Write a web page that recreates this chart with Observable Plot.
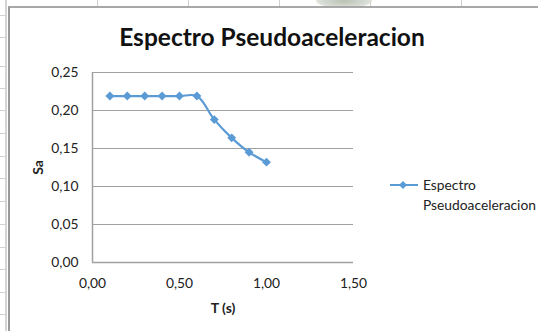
<!DOCTYPE html>
<html>
<head>
<meta charset="utf-8">
<script src="https://cdn.jsdelivr.net/npm/d3@7"></script>
<script src="https://cdn.jsdelivr.net/npm/@observablehq/plot@0.6"></script>
<style>
  html, body { margin: 0; padding: 0; background: #fff; }
  #wrap { position: relative; width: 538px; height: 331px; overflow: hidden; font-family: Lato, "Open Sans", sans-serif; }
  .vline { position: absolute; top: 0; width: 1px; height: 6px; background: #d0d0d0; }
  .hline { position: absolute; left: 0; width: 7px; height: 1px; background: #d0d0d0; }
  #lstripe { position: absolute; left: 5px; top: 0; width: 2px; height: 331px; background: #d4d4d4; }
  #chart { position: absolute; left: 8px; top: 6px; width: 540px; height: 340px; border-left: 2px solid #9a9a9a; border-top: 2px solid #a8a8a8; background: #fff; }
  #wm { position: absolute; left: 316px; top: -6px; width: 56px; height: 14px; border-radius: 50%; background: radial-gradient(ellipse at center, #b9c2b5 0%, #d9ded6 60%, rgba(255,255,255,0) 100%); }
  #plot { position: absolute; left: 0; top: 0; }
  #title { position: absolute; left: 0; width: 544px; top: 22px; text-align: center; font-weight: bold; font-size: 24.5px; color: #111; white-space: nowrap; }
  #legend { position: absolute; left: 390px; top: 175px; font-size: 13.8px; color: #222; }
  #legend svg { position: absolute; left: 0; top: 4px; }
  #legend .t { position: absolute; left: 33px; white-space: nowrap; line-height: 20px; }
</style>
</head>
<body>
<div id="wrap">
  <div id="lstripe"></div>
  <div id="wm"></div>
  <div id="chart"></div>
  <div id="plot"></div>
  <div id="title">Espectro Pseudoaceleracion</div>
  <div id="legend">
    <svg width="30" height="12"><line x1="0" y1="6" x2="28" y2="6" stroke="#5B9BD5" stroke-width="2"/><path d="M13,2 L17,6 L13,10 L9,6 Z" fill="#5B9BD5"/></svg>
    <div class="t" style="top:0px">Espectro</div>
    <div class="t" style="top:20px">Pseudoaceleracion</div>
  </div>
</div>
<script>
// Data
const periods = [0.1, 0.2, 0.3, 0.4, 0.5, 0.6, 0.7, 0.8, 0.9, 1.0];
const sa = [0.219, 0.219, 0.219, 0.219, 0.219, 0.219, 0.188, 0.164, 0.145, 0.132];
const xTicks = [0, 0.5, 1.0, 1.5];
const yTicks = [0, 0.05, 0.10, 0.15, 0.20, 0.25];
const seriesName = "Espectro Pseudoaceleracion";
const chartTitle = "Espectro Pseudoaceleracion";
const xLabel = "T (s)";
const yLabel = "Sa";

// background spreadsheet grid
const wrap = document.getElementById("wrap");
const colLines = [6, 97, 188, 279, 370, 461];
const rowLines = [15, 37, 66, 88, 110, 133, 156, 178, 201, 224, 247, 269, 292, 314];
colLines.forEach(x => { const d = document.createElement("div"); d.className = "vline"; d.style.left = x + "px"; wrap.insertBefore(d, wrap.firstChild); });
rowLines.forEach(y => { const d = document.createElement("div"); d.className = "hline"; d.style.top = y + "px"; wrap.insertBefore(d, wrap.firstChild); });

const data = periods.map((t, i) => ({T: t, Sa: sa[i], series: seriesName}));
const fmt = d => d.toFixed(2).replace(".", ",");

const chart = Plot.plot({
  width: 538,
  height: 331,
  marginLeft: 92,
  marginRight: 185,
  marginTop: 72,
  marginBottom: 69,
  style: {fontFamily: "Lato, 'Open Sans', sans-serif", fontSize: "13.8px", color: "#222", background: "transparent", overflow: "visible"},
  x: {domain: [0, 1.5], ticks: xTicks, tickFormat: fmt, label: null},
  y: {domain: [0, 0.25], ticks: yTicks, tickFormat: fmt, label: null},
  marks: [
    Plot.ruleY(yTicks.filter(d => d > 0), {stroke: "#a0a0a0", strokeWidth: 1.2}),
    Plot.ruleY([0], {stroke: "#a0a0a0", strokeWidth: 1.5}),
    Plot.ruleX([0], {stroke: "#a0a0a0", strokeWidth: 1.5}),
    Plot.axisY({ticks: yTicks, tickFormat: fmt, tickSize: 0, tickPadding: 14, label: null, fontSize: 13.8}),
    Plot.axisX({ticks: xTicks, tickFormat: fmt, tickSize: 0, tickPadding: 16, label: null, fontSize: 13.8}),
    Plot.line(data, {x: "T", y: "Sa", stroke: "#5B9BD5", strokeWidth: 2.2, curve: "catmull-rom"}),
    Plot.dot(data, {x: "T", y: "Sa", symbol: "diamond2", r: 4, fill: "#5B9BD5", stroke: "none"}),
    Plot.text([yLabel], {frameAnchor: "left", dx: -54, rotate: -90, textAnchor: "middle", fontWeight: "bold", fontSize: 14}),
    Plot.text([xLabel], {frameAnchor: "bottom", dy: 46, textAnchor: "middle", lineAnchor: "middle", fontWeight: "bold", fontSize: 14})
  ]
});
document.getElementById("plot").appendChild(chart);
</script>
</body>
</html>
